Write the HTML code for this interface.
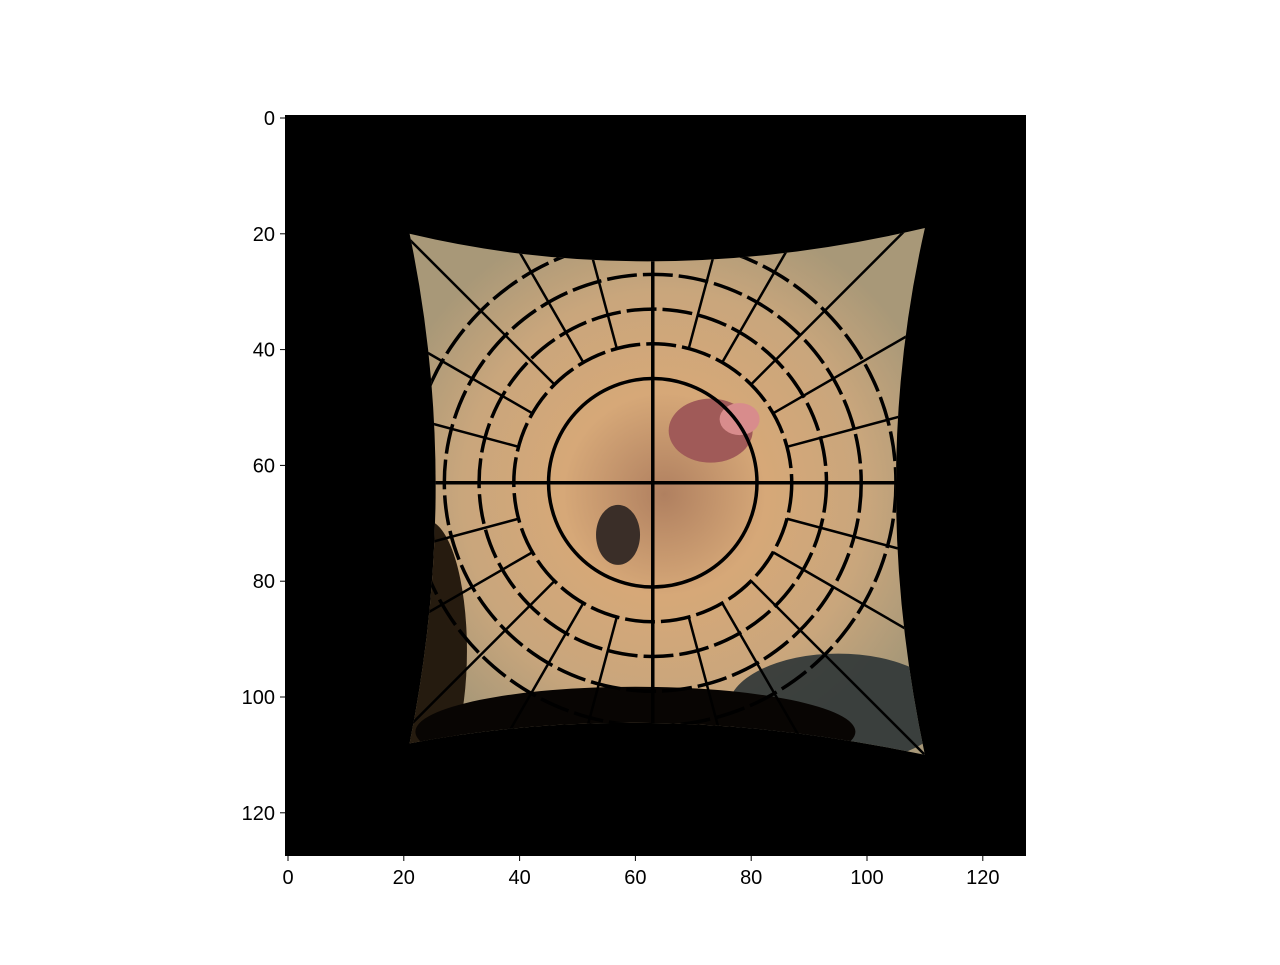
<!DOCTYPE html>
<html><head><meta charset="utf-8"><style>
body{margin:0;background:#fff;}
svg text{font-family:"Liberation Sans",sans-serif;font-size:20px;fill:#000;}
</style></head><body>
<svg id="chart" width="1280" height="960" xmlns="http://www.w3.org/2000/svg">
<defs>
<radialGradient id="face" cx="0.5" cy="0.5" r="0.5">
<stop offset="0" stop-color="#b08060"/><stop offset="0.35" stop-color="#d6a878"/><stop offset="0.7" stop-color="#c9a67c"/><stop offset="1" stop-color="#a89878"/>
</radialGradient>
<clipPath id="warp"><path id="warpPath"/></clipPath>
</defs>
<rect x="285" y="115" width="741" height="741" fill="#000"/>
<g id="img" clip-path="url(#warp)"></g>
<g id="axes"></g>
</svg>
<script>
const xTicks=[0,20,40,60,80,100,120];
const yTicks=[0,20,40,60,80,100,120];
const ringRadii=[18,24,30,36,42];
const center=[63,63];
const NS="http://www.w3.org/2000/svg";
const sx=v=>288+v*5.79, sy=v=>118+v*5.79;
function mk(t,a,p){const e=document.createElementNS(NS,t);for(const k in a)e.setAttribute(k,a[k]);p.appendChild(e);return e;}
const wp=`M${sx(21)},${sy(20)} Q${sx(63)},${sy(30)} ${sx(110)},${sy(19)} Q${sx(100)},${sy(63)} ${sx(110)},${sy(110)} Q${sx(63)},${sy(100)} ${sx(21)},${sy(108)} Q${sx(30)},${sy(63)} ${sx(21)},${sy(20)}Z`;
document.getElementById('warpPath').setAttribute('d',wp);
const g=document.getElementById('img');
const base=mk('rect',{x:sx(15),y:sy(15),width:100*5.79,height:100*5.79,fill:'url(#face)'},g);


const d1=mk('ellipse',{cx:sx(95),cy:sy(102),rx:110,ry:55,fill:'#2e3536',opacity:0.9},g);


const d2=mk('ellipse',{cx:sx(24),cy:sy(92),rx:40,ry:130,fill:'#1e140a',opacity:0.95},g);


const d3=mk('ellipse',{cx:sx(60),cy:sy(106),rx:220,ry:45,fill:'#080503'},g);


const nose=mk('ellipse',{cx:sx(73),cy:sy(54),rx:42,ry:32,fill:'#a05a58'},g);


const nose2=mk('ellipse',{cx:sx(78),cy:sy(52),rx:20,ry:16,fill:'#d88c8c'},g);


const eye=mk('ellipse',{cx:sx(57),cy:sy(72),rx:22,ry:30,fill:'#3a2e28'},g);


for(const r of ringRadii){
 const c=mk('circle',{cx:sx(center[0]),cy:sy(center[1]),r:r*5.79,fill:'none',stroke:'#000','stroke-width':3.5,'stroke-dasharray':r>20?'30 6':'none'},g);
 
 
}
for(let a=0;a<360;a+=15){
 const rad=a*Math.PI/180, r0=a%90===0?0:24;
 const l=mk('line',{x1:sx(center[0]+r0*Math.cos(rad)),y1:sy(center[1]+r0*Math.sin(rad)),x2:sx(center[0]+70*Math.cos(rad)),y2:sy(center[1]+70*Math.sin(rad)),stroke:'#000','stroke-width':a%90===0?3.5:2.5},g);
 
 
}
const ax=document.getElementById('axes');
const fr=mk('rect',{x:285.5,y:115.5,width:740,height:740,fill:'none',stroke:'#000','stroke-width':1},ax);


for(const t of xTicks){
 const tk=mk('line',{x1:sx(t),y1:856,x2:sx(t),y2:861,stroke:'#000'},ax);
 
 
 const tx=mk('text',{x:sx(t),y:884,'text-anchor':'middle'},ax);tx.textContent=t;
 
 
}
for(const t of yTicks){
 const tk=mk('line',{x1:280,y1:sy(t),x2:285,y2:sy(t),stroke:'#000'},ax);
 
 
 const tx=mk('text',{x:275,y:sy(t)+7,'text-anchor':'end'},ax);tx.textContent=t;
 
 
}
</script>
</body></html>
